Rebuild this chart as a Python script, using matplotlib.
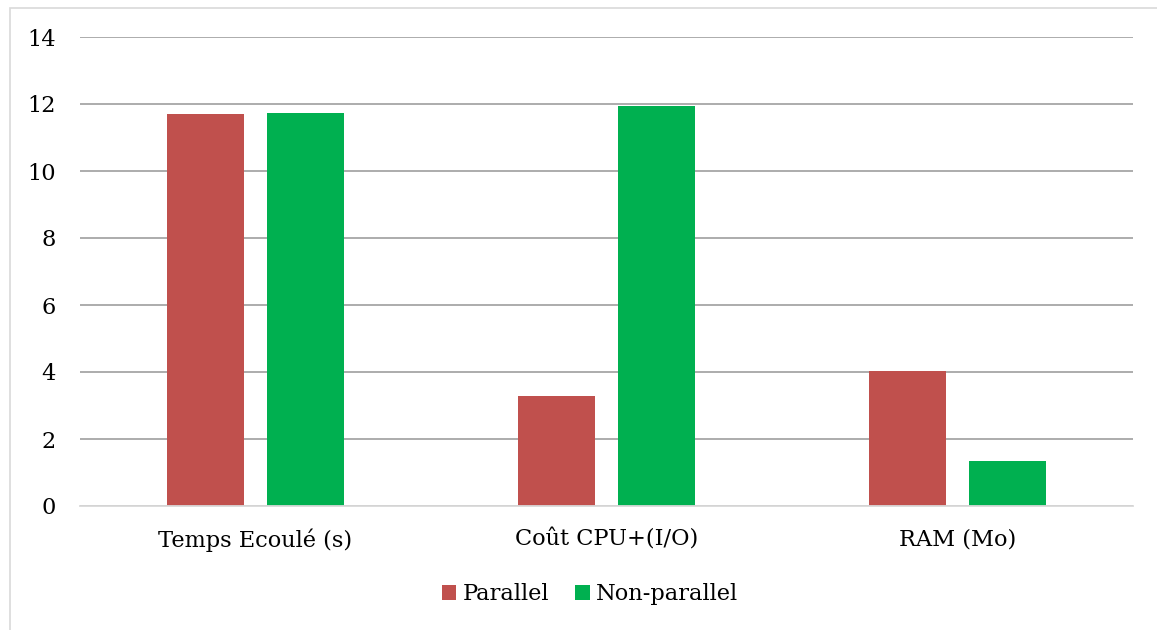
import numpy as np
import matplotlib
matplotlib.use('agg')
import matplotlib.pyplot as plt
from matplotlib.patches import Rectangle

categories = ['Temps Ecoulé (s)', 'Coût CPU+(I/O)', 'RAM (Mo)']
parallel = [11.70, 3.28, 4.02]
non_parallel = [11.73, 11.93, 1.34]
yticks = [0, 2, 4, 6, 8, 10, 12, 14]

plt.rcParams['font.family'] = ['DejaVu Serif']

W, H = 1157, 630
fig = plt.figure(figsize=(W / 100, H / 100), dpi=100)
ax = fig.add_axes([80 / W, 1 - 506 / H, (1133 - 80) / W, (506 - 37) / H])

# outer chart border (partly cut off at right and bottom)
fig.patches.append(Rectangle((10 / W, -0.1), 1.2, 1 - 8 / H + 0.1, transform=fig.transFigure,
                             fill=False, edgecolor='#D9D9D9', linewidth=1.2))

x = np.arange(len(categories))
w = 0.222
off = 0.1425
ax.bar(x - off, parallel, w, color='#C0504D', label='Parallel', zorder=3)
ax.bar(x + off, non_parallel, w, color='#00B050', label='Non-parallel', zorder=3)

ax.set_xlim(-0.5, 2.5)
ax.set_ylim(0, 14)
ax.set_yticks(yticks)
ax.set_xticks(x)
ax.set_xticklabels(categories)
ax.yaxis.grid(True, color='#A6A6A6', linewidth=1.3, zorder=0)
ax.tick_params(axis='both', length=0, labelsize=16.2, colors='#000000')
ax.tick_params(axis='y', pad=17.5)
ax.tick_params(axis='x', pad=16)
for s in ['top', 'right', 'left']:
    ax.spines[s].set_visible(False)
ax.spines['bottom'].set_color('#D9D9D9')
ax.spines['bottom'].set_linewidth(1.3)
ax.spines['bottom'].set_zorder(4)

fig.legend(loc='center', bbox_to_anchor=(590 / W, 1 - 594 / H), ncol=2, frameon=False,
           fontsize=16.2, handlelength=0.65, handleheight=0.65, handletextpad=0.28, columnspacing=1.15)

fig.savefig('out.png', dpi=100)
